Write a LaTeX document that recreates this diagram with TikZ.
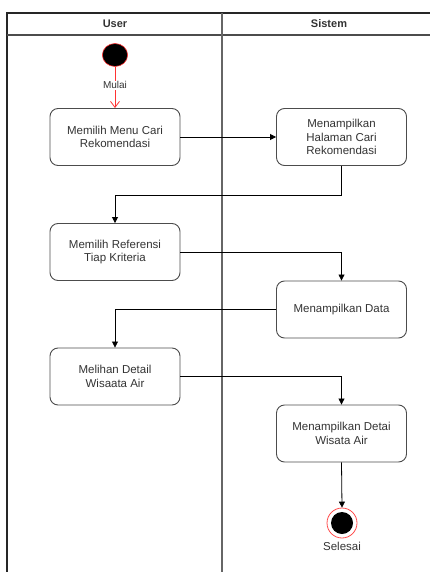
\documentclass[tikz,border=0pt]{standalone}
\usepackage{fontspec}
\setmainfont{Liberation Sans}
\usetikzlibrary{arrows.meta}
\begin{document}
\begin{tikzpicture}[x=1pt,y=-1pt,
  act/.style={draw=black!70,line width=0.9pt,rounded corners=8pt,minimum width=130pt,minimum height=57pt,align=center,font=\fontsize{11.5}{13.5}\selectfont,text=black!80,inner sep=2pt},
  flow/.style={draw=black,line width=0.8pt,-{Triangle[length=6pt,width=6pt]}},
  lane/.style={line width=1.2pt,draw=black!85},
  hdr/.style={font=\bfseries\fontsize{11}{13}\selectfont,text=black!80}]
\useasboundingbox (0,0) rectangle (430,572);
% swimlanes
\draw[lane] (7,572) -- (7,13) -- (430,13);
\draw[lane,draw=black!70] (7,35) -- (430,35);
\draw[lane,draw=black!60] (222,13) -- (222,572);
\node[hdr] (huser) at (115,24) {User};
\node[hdr] (hsis) at (329,24) {Sistem};
% start
\node[circle,fill=black,draw=red!80,line width=0.6pt,minimum size=23pt,inner sep=0pt,xscale=1.1] (start) at (115,55) {};
% activities
\node[act] (a1) at (115,137) {Memilih Menu Cari\\Rekomendasi};
\node[act] (a2) at (341.5,137) {Menampilkan\\Halaman Cari\\Rekomendasi};
\node[act] (a3) at (115,252) {Memilih Referensi\\Tiap Kriteria};
\node[act] (a4) at (341.5,309.5) {Menampilkan Data};
\node[act] (a5) at (115,376.5) {Melihan Detail\\Wisaata Air};
\node[act] (a6) at (341.5,433.5) {Menampilkan Detai\\Wisata Air};
% end
\node[circle,draw=red!70,line width=0.8pt,minimum size=30pt,inner sep=0pt] (end) at (342,523) {};
\node[circle,fill=black,minimum size=22pt,inner sep=0pt] (endin) at (end.center) {};
\node[font=\fontsize{11.5}{13}\selectfont,text=black!80] (lend) at (342,546) {Selesai};
% flows
\draw[draw=red!80,line width=0.8pt,-{Straight Barb[length=6pt,width=9pt]}] (start) -- (a1.north) node[pos=0.45,fill=white,inner sep=1pt,font=\fontsize{10}{11}\selectfont,text=black!80] (lstart) {Mulai};
\draw[flow] (a1) -- (a2);
\draw[flow] (a2.south) -- ++(0,29) -| (a3.north);
\draw[flow] (a3.east) -| (a4.north);
\draw[flow] (a4.west) -| (a5.north);
\draw[flow] (a5.east) -| (a6.north);
\draw[flow] (a6.south) -- (end.north);
\end{tikzpicture}
\end{document}
